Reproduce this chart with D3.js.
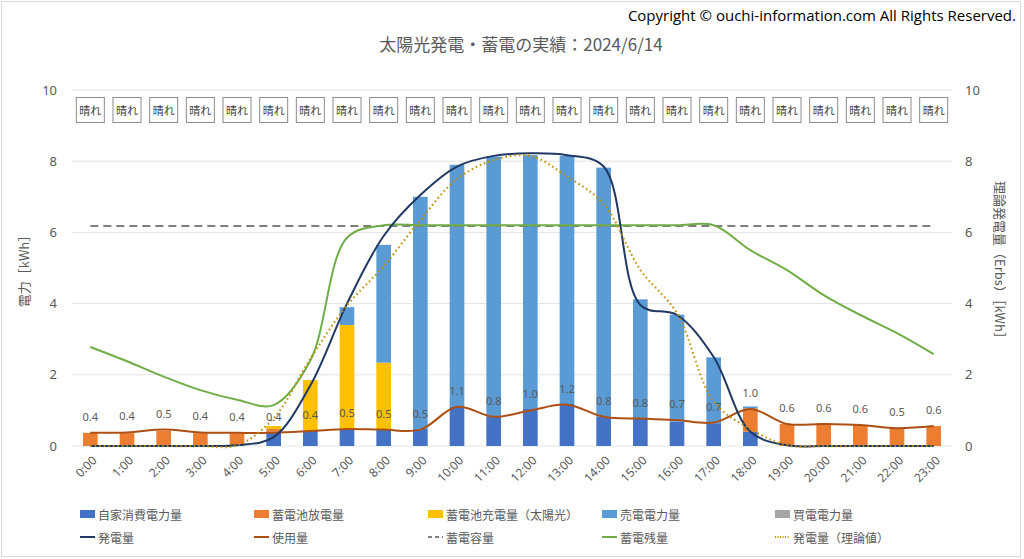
<!DOCTYPE html>
<html>
<head>
<meta charset="utf-8">
<script src="https://cdn.jsdelivr.net/npm/d3@7"></script>
<style>
  body { margin: 0; background: #fff; }
  text { font-family: "Noto Sans CJK JP", "Noto Sans", sans-serif; }
</style>
</head>
<body>
<svg id="chart" width="1024" height="559"></svg>
<script>
// hourly categories
const hours = ["0:00","1:00","2:00","3:00","4:00","5:00","6:00","7:00","8:00","9:00","10:00","11:00",
  "12:00","13:00","14:00","15:00","16:00","17:00","18:00","19:00","20:00","21:00","22:00","23:00"]
const weather = ["晴れ","晴れ","晴れ","晴れ","晴れ","晴れ","晴れ","晴れ","晴れ","晴れ","晴れ","晴れ",
  "晴れ","晴れ","晴れ","晴れ","晴れ","晴れ","晴れ","晴れ","晴れ","晴れ","晴れ","晴れ"]

// stacked bars (kWh)
const selfUse   = [0,0,0,0,0,0.40,0.42,0.48,0.45,0.48,1.10,0.82,1.04,1.18,0.82,0.76,0.68,0.64,0.40,0,0,0,0,0]
const discharge = [0.37,0.36,0.43,0.36,0.36,0.08,0,0,0,0,0,0,0,0,0,0,0,0,0.66,0.62,0.64,0.59,0.50,0.56]
const charge    = [0,0,0,0,0,0.08,1.43,2.92,1.89,0,0,0,0,0,0,0,0,0,0,0,0,0,0,0]
const sell      = [0,0,0,0,0,0,0,0.50,3.31,6.52,6.80,7.31,7.13,6.97,7.00,3.36,3.01,1.85,0.05,0,0,0,0,0]
const buy       = [0,0,0,0,0,0,0,0,0,0,0,0,0,0,0,0,0,0,0,0,0,0,0,0]

// lines (kWh)
const generation  = [0,0,0,0,0.02,0.25,1.70,4.00,5.90,7.05,7.85,8.15,8.22,8.17,7.85,3.96,3.68,2.50,0.40,0.02,0,0,0,0]
const usage       = [0.37,0.38,0.46,0.38,0.37,0.37,0.42,0.48,0.46,0.46,1.10,0.82,1.00,1.16,0.82,0.77,0.73,0.66,1.04,0.62,0.62,0.59,0.50,0.56]
const batteryLeft = [2.78,2.38,1.95,1.57,1.30,1.15,2.40,5.85,6.20,6.20,6.20,6.20,6.20,6.20,6.20,6.20,6.20,6.20,5.50,4.94,4.24,3.68,3.17,2.58]
const theoretical = [0,0,0,0,0.02,0.78,2.45,3.95,5.05,6.35,7.50,8.03,8.15,7.57,6.80,4.95,3.73,1.25,0.48,0.02,0,0,0,0]
const capacity = 6.18

const yTicks = [0,2,4,6,8,10]

const barSeries = [
  { key: "自家消費電力量", values: selfUse, color: "#4472C4" },
  { key: "蓄電池放電量", values: discharge, color: "#ED7D31" },
  { key: "蓄電池充電量（太陽光）", values: charge, color: "#FFC000" },
  { key: "売電電力量", values: sell, color: "#5B9BD5" },
  { key: "買電電力量", values: buy, color: "#A5A5A5" }
]
const lineSeries = [
  { key: "発電量", values: generation, color: "#203864", dash: null },
  { key: "使用量", values: usage, color: "#AE5014", dash: null },
  { key: "蓄電容量", values: null, color: "#7F7F7F", dash: "8,5" },
  { key: "蓄電残量", values: batteryLeft, color: "#70AD47", dash: null },
  { key: "発電量（理論値）", values: theoretical, color: "#BF9000", dash: "1.5,3" }
]

const svg = d3.select("#chart")
const txt = "#595959"

svg.append("rect")
  .attr("x", 1.5).attr("y", 1.5).attr("width", 1019).attr("height", 555)
  .attr("fill", "#fff").attr("stroke", "#D9D9D9")

const x = d3.scaleBand().domain(hours).range([72, 952]).paddingInner(0.6).paddingOuter(0.3)
const xc = h => x(h) + x.bandwidth() / 2
const y = d3.scaleLinear().domain([0, 10]).range([446, 90])

// copyright + title
svg.append("text")
  .attr("x", 1016).attr("y", 21).attr("text-anchor", "end")
  .attr("font-size", 15).attr("fill", "#000")
  .style("font-family", "'Open Sans', sans-serif")
  .text("Copyright © ouchi-information.com All Rights Reserved.")

svg.append("text")
  .attr("x", 521).attr("y", 51).attr("text-anchor", "middle")
  .attr("font-size", 17).attr("fill", txt)
  .text("太陽光発電・蓄電の実績：2024/6/14")

// grid
svg.append("g").selectAll("line")
  .data(yTicks)
  .join("line")
  .attr("x1", 72).attr("x2", 952)
  .attr("y1", d => y(d)).attr("y2", d => y(d))
  .attr("stroke", "#E3E3E3")

// left / right axes
const leftAxis = svg.append("g").attr("transform", "translate(60,0)")
  .call(d3.axisLeft(y).tickValues(yTicks).tickSize(0).tickPadding(3))
const rightAxis = svg.append("g").attr("transform", "translate(962,0)")
  .call(d3.axisRight(y).tickValues(yTicks).tickSize(0).tickPadding(3))
;[leftAxis, rightAxis].forEach(g => {
  g.select(".domain").remove()
  g.selectAll("text").attr("font-size", 13).attr("fill", txt)
    .style("font-family", "'Noto Sans', sans-serif")
})

svg.append("text")
  .attr("transform", "translate(25,268) rotate(-90)")
  .attr("text-anchor", "middle").attr("dominant-baseline", "middle")
  .attr("font-size", 13).attr("fill", txt)
  .text("電力［kWh］")

svg.append("text")
  .attr("transform", "translate(999,263) rotate(90)")
  .attr("text-anchor", "middle").attr("dominant-baseline", "middle")
  .attr("font-size", 13).attr("fill", txt)
  .text("理論発電量（Erbs）［kWh］")

// weather boxes
const wx = svg.append("g").selectAll("g")
  .data(hours)
  .join("g")
  .attr("transform", d => `translate(${xc(d)},110)`)
wx.append("rect")
  .attr("x", -14).attr("y", -12.5).attr("width", 28).attr("height", 25)
  .attr("fill", "#fff").attr("stroke", "#8C8C8C")
wx.append("text")
  .attr("text-anchor", "middle").attr("dominant-baseline", "central")
  .attr("font-size", 11).attr("fill", "#404040")
  .text((d, i) => weather[i])

// stacked bars
const rows = hours.map((h, i) => {
  const r = { hour: h }
  barSeries.forEach(s => { r[s.key] = s.values[i] })
  return r
})
const stacked = d3.stack().keys(barSeries.map(s => s.key))(rows)

svg.append("g").selectAll("g")
  .data(stacked)
  .join("g")
  .attr("fill", (d, i) => barSeries[i].color)
  .selectAll("rect")
  .data(d => d)
  .join("rect")
  .attr("x", d => x(d.data.hour))
  .attr("width", x.bandwidth())
  .attr("y", d => y(d[1]))
  .attr("height", d => y(d[0]) - y(d[1]))

// lines
const line = d3.line()
  .x((d, i) => xc(hours[i]))
  .y(d => y(d))
  .curve(d3.curveCatmullRom.alpha(0.5))

svg.append("line")
  .attr("x1", xc(hours[0])).attr("x2", xc(hours[hours.length - 1]))
  .attr("y1", y(capacity)).attr("y2", y(capacity))
  .attr("stroke", "#7F7F7F").attr("stroke-width", 2).attr("stroke-dasharray", "8,5")

const drawOrder = [lineSeries[3], lineSeries[1], lineSeries[0], lineSeries[4]]
drawOrder.forEach(s => {
  svg.append("path")
    .datum(s.values)
    .attr("d", line)
    .attr("fill", "none")
    .attr("stroke", s.color)
    .attr("stroke-width", s.dash ? 2.2 : 2)
    .attr("stroke-dasharray", s.dash)
})

// usage data labels
const fmt = d3.format(".1f")
svg.append("g").selectAll("text")
  .data(usage)
  .join("text")
  .attr("x", (d, i) => xc(hours[i]))
  .attr("y", d => y(d) - 12)
  .attr("text-anchor", "middle")
  .attr("font-size", 11).attr("fill", txt)
  .style("font-family", "'Noto Sans', sans-serif")
  .text(d => fmt(d))

// x labels
svg.append("g").selectAll("text")
  .data(hours)
  .join("text")
  .attr("transform", d => `translate(${xc(d) + 4},458) rotate(-45)`)
  .attr("text-anchor", "end")
  .attr("dominant-baseline", "central")
  .attr("font-size", 12).attr("fill", txt)
  .style("font-family", "'Noto Sans', sans-serif")
  .text(d => d)

// legend
const colX = [80, 254, 428, 602, 775]
const legend = svg.append("g")
barSeries.forEach((s, i) => {
  const g = legend.append("g").attr("transform", `translate(${colX[i]},514)`)
  g.append("rect").attr("x", 0).attr("y", -4).attr("width", 15).attr("height", 8).attr("fill", s.color)
  g.append("text").attr("x", 18).attr("dominant-baseline", "central")
    .attr("font-size", 12).attr("fill", txt).text(s.key)
})
lineSeries.forEach((s, i) => {
  const g = legend.append("g").attr("transform", `translate(${colX[i]},537)`)
  g.append("line").attr("x1", 0).attr("x2", 15).attr("y1", 0).attr("y2", 0)
    .attr("stroke", s.color).attr("stroke-width", 2)
    .attr("stroke-dasharray", s.dash === "8,5" ? "4,3" : (s.dash ? "1,1.5" : null))
  g.append("text").attr("x", 18).attr("dominant-baseline", "central")
    .attr("font-size", 12).attr("fill", txt).text(s.key)
})
</script>
</body>
</html>
